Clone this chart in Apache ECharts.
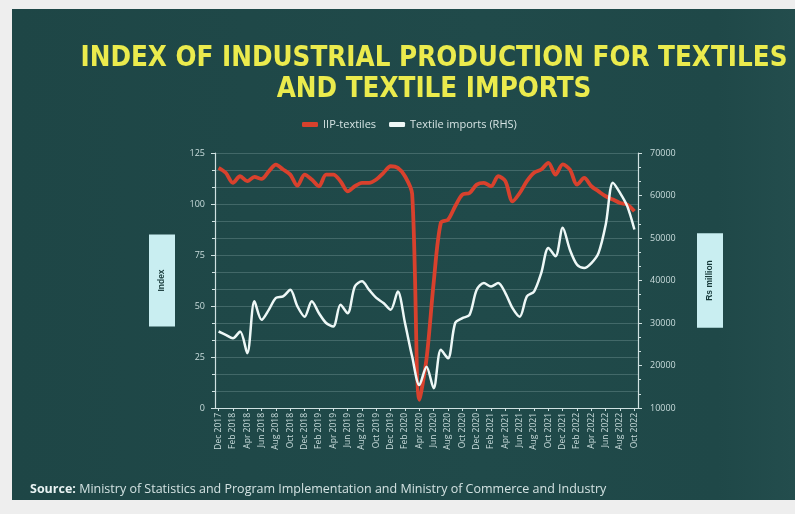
<!DOCTYPE html>
<html>
<head>
<meta charset="utf-8">
<script src="https://cdn.jsdelivr.net/npm/echarts@6/dist/echarts.min.js"></script>
<style>
  html, body { margin: 0; padding: 0; background: #eeeeee; }
  #panel { position: absolute; left: 12px; top: 9px; width: 783px; height: 491px;
           background: linear-gradient(90deg, #1e4646 0%, #204a4a 60%, #1f4848 90%, #234d4d 100%); }
  #chart { position: absolute; left: 0; top: 0; width: 795px; height: 514px; }
</style>
</head>
<body>
<div id="panel"></div>
<div id="chart"></div>
<script>
const months = [
  "Dec 2017",
  "Jan 2018","Feb 2018","Mar 2018","Apr 2018","May 2018","Jun 2018","Jul 2018","Aug 2018","Sep 2018","Oct 2018","Nov 2018","Dec 2018",
  "Jan 2019","Feb 2019","Mar 2019","Apr 2019","May 2019","Jun 2019","Jul 2019","Aug 2019","Sep 2019","Oct 2019","Nov 2019","Dec 2019",
  "Jan 2020","Feb 2020","Mar 2020","Apr 2020","May 2020","Jun 2020","Jul 2020","Aug 2020","Sep 2020","Oct 2020","Nov 2020","Dec 2020",
  "Jan 2021","Feb 2021","Mar 2021","Apr 2021","May 2021","Jun 2021","Jul 2021","Aug 2021","Sep 2021","Oct 2021","Nov 2021","Dec 2021",
  "Jan 2022","Feb 2022","Mar 2022","Apr 2022","May 2022","Jun 2022","Jul 2022","Aug 2022","Sep 2022","Oct 2022"
];
const iipTextiles = [
  117.7,115.3,110.4,113.6,111.2,113.3,112.3,116,119.3,116.9,
  114.4,109,114.4,112,108.7,114.4,114.4,111.2,106.2,108.7,
  110.4,110.4,112,115.3,118.5,117.7,113.6,105,4,24,
  61.4,90.8,92.3,98.9,104.6,105.4,109.5,110.4,108.7,113.6,
  111.2,101.3,105.4,111.2,115.3,116.9,120.2,114.4,119.4,116.9,
  109.5,112.8,108.7,106.2,103.8,102.2,100.5,99.7,96.4
];
const textileImports = [
  28000,27200,26400,28000,22900,35100,30750,33100,35900,36250,
  37800,33900,31500,35100,32300,30000,29200,34300,32300,38600,
  39800,37800,35900,34700,33100,37400,30000,22100,15400,19700,
  14650,23700,21700,30000,31150,31900,37800,39400,38600,39400,
  37050,33500,31500,36250,37400,41750,47650,45700,52400,47250,
  43700,42950,44100,46500,53150,63000,60600,57500,52000
];
const titleText = "INDEX OF INDUSTRIAL PRODUCTION FOR TEXTILES\nAND TEXTILE IMPORTS";
const seriesNames = ["IIP-textiles", "Textile imports (RHS)"];
const leftAxisName = "Index";
const rightAxisName = "Rs million";
const sourceLabel = "Source:";
const sourceText = " Ministry of Statistics and Program Implementation and Ministry of Commerce and Industry";

const chart = echarts.init(document.getElementById('chart'), null, { renderer: 'canvas' });
const axisCol = '#cfe1e1';
const gridCol = 'rgba(190,220,220,0.22)';
const labelCol = '#c9dcdc';

chart.setOption({
  animation: false,
  backgroundColor: 'transparent',
  title: {
    text: titleText,
    left: 429, top: 38, textAlign: 'center',
    textStyle: {
      color: '#ebeb4d', fontSize: 27.5, fontWeight: 'bold', lineHeight: 31,
      fontFamily: "'DejaVu Sans Condensed', sans-serif"
    }
  },
  legend: {
    left: 297, top: 114,
    itemWidth: 16, itemHeight: 5, itemGap: 13,
    icon: 'roundRect',
    textStyle: { color: '#d5e3e3', fontSize: 11, fontFamily: "'Open Sans', sans-serif" },
    data: seriesNames
  },
  grid: { left: 215, right: 157, top: 153, bottom: 106 },
  xAxis: {
    type: 'category',
    data: months,
    boundaryGap: true,
    axisLine: { lineStyle: { color: axisCol, width: 1.2 } },
    axisTick: { show: true, alignWithLabel: true, interval: 1, length: 3, lineStyle: { color: axisCol } },
    axisLabel: {
      interval: 1, rotate: 90, color: labelCol, fontSize: 8.5, margin: 5,
      fontFamily: "'Open Sans', sans-serif"
    },
    splitLine: { show: false }
  },
  yAxis: [
    {
      type: 'value', min: 0, max: 125, interval: 25,
      name: leftAxisName, nameLocation: 'middle', nameGap: 40, nameRotate: 90,
      nameTextStyle: {
        backgroundColor: '#c9eef1', color: '#163838', fontSize: 8.5, fontWeight: 'bold',
        padding: [9, 35, 9, 35], lineHeight: 8
      },
      axisLine: { show: true, lineStyle: { color: axisCol, width: 1.2 } },
      axisTick: { show: true, length: 4, lineStyle: { color: axisCol } },
      minorTick: { show: true, splitNumber: 3, length: 3, lineStyle: { color: axisCol } },
      axisLabel: { color: labelCol, fontSize: 9, margin: 10, fontFamily: "'Open Sans', sans-serif" },
      splitLine: { show: true, lineStyle: { color: gridCol, width: 1 } },
      minorSplitLine: { show: true, lineStyle: { color: gridCol, width: 1 } }
    },
    {
      type: 'value', min: 10000, max: 70000, interval: 10000,
      name: rightAxisName, nameLocation: 'middle', nameGap: 59, nameRotate: 90,
      nameTextStyle: {
        backgroundColor: '#c9eef1', color: '#163838', fontSize: 8.5, fontWeight: 'bold',
        padding: [9, 27, 9, 27], lineHeight: 8
      },
      axisLine: { show: true, lineStyle: { color: axisCol, width: 1.2 } },
      axisTick: { show: true, length: 4, lineStyle: { color: axisCol } },
      minorTick: { show: true, splitNumber: 3, length: 3, lineStyle: { color: axisCol } },
      axisLabel: { color: labelCol, fontSize: 9, margin: 12, fontFamily: "'Open Sans', sans-serif",
                   formatter: function (v) { return String(v); } },
      splitLine: { show: false },
      minorSplitLine: { show: false }
    }
  ],
  series: [
    {
      name: seriesNames[0], type: 'line', yAxisIndex: 0,
      data: iipTextiles, smooth: 0.3, symbol: 'none',
      itemStyle: { color: '#d8412d' },
      lineStyle: { color: '#d8412d', width: 3.8 }
    },
    {
      name: seriesNames[1], type: 'line', yAxisIndex: 1,
      data: textileImports, smooth: 0.3, symbol: 'none',
      itemStyle: { color: '#eef8f7' },
      lineStyle: { color: '#eef8f7', width: 2.5 }
    }
  ],
  graphic: [
    {
      type: 'text', left: 30, top: 483,
      style: {
        text: '{b|' + sourceLabel + '}' + sourceText,
        fill: '#d3e2e2', fontSize: 12.5, fontFamily: "'Open Sans', sans-serif",
        rich: { b: { fontWeight: 'bold', fontSize: 12.5, fill: '#e8f2f2', fontFamily: "'Open Sans', sans-serif" } }
      }
    }
  ]
});
</script>
</body>
</html>
